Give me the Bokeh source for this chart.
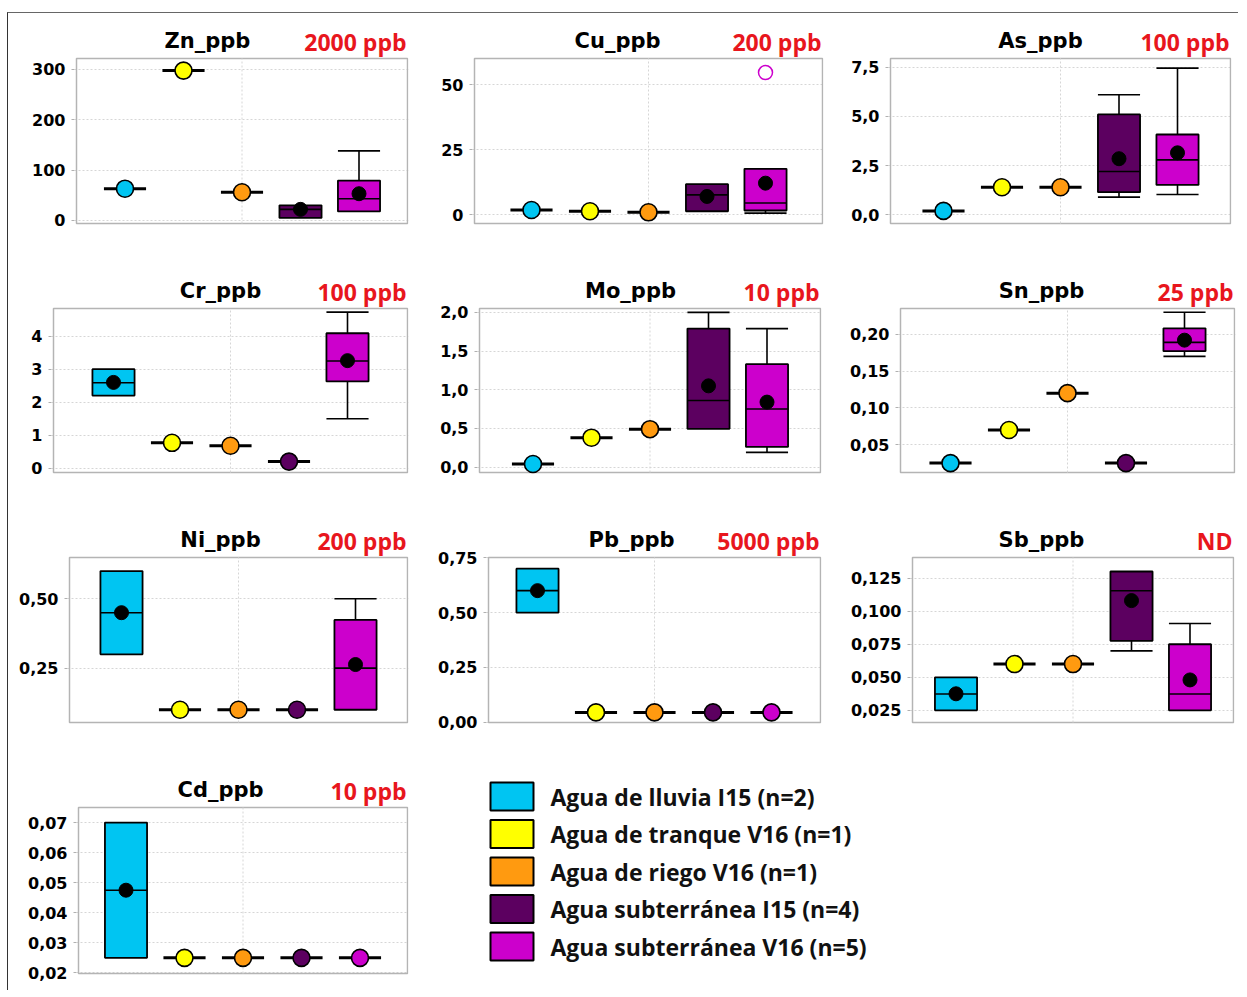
from bokeh.plotting import figure
from bokeh.layouts import row, column
from bokeh.models import Range1d, FixedTicker, ColumnDataSource
from bokeh.embed import file_html
from bokeh.resources import INLINE
from bokeh.core.properties import value

# ---------------- data ----------------
GROUPS = ["Agua de lluvia I15 (n=2)", "Agua de tranque V16 (n=1)", "Agua de riego V16 (n=1)",
          "Agua subterránea I15 (n=4)", "Agua subterránea V16 (n=5)"]
COLORS = ["#00c5f2", "#ffff00", "#ff9a10", "#5c0060", "#cc00cc"]
XPOS = [1, 2, 3, 4, 5]

# per element: lower whisker, Q1, median, Q3, upper whisker, mean (one value per group)
ZN_LO = [63, 297, 56, 5, 18]
ZN_Q1 = [63, 297, 56, 5, 18]
ZN_MED = [63, 297, 56, 22, 43]
ZN_Q3 = [63, 297, 56, 30, 79]
ZN_HI = [63, 297, 56, 30, 138]
ZN_MEAN = [63, 297, 56, 22, 53]
ZN_TICKS = [0, 100, 200, 300]
ZN_LABELS = ["0", "100", "200", "300"]

CU_LO = [1.8, 1.3, 0.9, 1.3, 0.6]
CU_Q1 = [1.8, 1.3, 0.9, 1.3, 1.6]
CU_MED = [1.8, 1.3, 0.9, 7.6, 4.5]
CU_Q3 = [1.8, 1.3, 0.9, 11.7, 17.6]
CU_HI = [1.8, 1.3, 0.9, 11.7, 17.6]
CU_MEAN = [1.8, 1.3, 0.9, 7.0, 12.1]
CU_OUT_X = [5]
CU_OUT_Y = [54.6]
CU_TICKS = [0, 25, 50]
CU_LABELS = ["0", "25", "50"]

AS_LO = [0.2, 1.4, 1.4, 0.9, 1.03]
AS_Q1 = [0.2, 1.4, 1.4, 1.15, 1.52]
AS_MED = [0.2, 1.4, 1.4, 2.2, 2.79]
AS_Q3 = [0.2, 1.4, 1.4, 5.1, 4.08]
AS_HI = [0.2, 1.4, 1.4, 6.1, 7.45]
AS_MEAN = [0.2, 1.4, 1.4, 2.85, 3.15]
AS_TICKS = [0, 2.5, 5, 7.5]
AS_LABELS = ["0,0", "2,5", "5,0", "7,5"]

CR_LO = [2.2, 0.77, 0.68, 0.2, 1.5]
CR_Q1 = [2.2, 0.77, 0.68, 0.2, 2.63]
CR_MED = [2.59, 0.77, 0.68, 0.2, 3.25]
CR_Q3 = [3.0, 0.77, 0.68, 0.2, 4.09]
CR_HI = [3.0, 0.77, 0.68, 0.2, 4.73]
CR_MEAN = [2.6, 0.77, 0.68, 0.2, 3.26]
CR_TICKS = [0, 1, 2, 3, 4]
CR_LABELS = ["0", "1", "2", "3", "4"]

MO_LO = [0.04, 0.38, 0.49, 0.495, 0.19]
MO_Q1 = [0.04, 0.38, 0.49, 0.495, 0.26]
MO_MED = [0.04, 0.38, 0.49, 0.86, 0.75]
MO_Q3 = [0.04, 0.38, 0.49, 1.79, 1.33]
MO_HI = [0.04, 0.38, 0.49, 2.0, 1.79]
MO_MEAN = [0.04, 0.38, 0.49, 1.05, 0.84]
MO_TICKS = [0, 0.5, 1, 1.5, 2]
MO_LABELS = ["0,0", "0,5", "1,0", "1,5", "2,0"]

SN_LO = [0.025, 0.07, 0.12, 0.025, 0.17]
SN_Q1 = [0.025, 0.07, 0.12, 0.025, 0.177]
SN_MED = [0.025, 0.07, 0.12, 0.025, 0.189]
SN_Q3 = [0.025, 0.07, 0.12, 0.025, 0.208]
SN_HI = [0.025, 0.07, 0.12, 0.025, 0.23]
SN_MEAN = [0.025, 0.07, 0.12, 0.025, 0.192]
SN_TICKS = [0.05, 0.10, 0.15, 0.20]
SN_LABELS = ["0,05", "0,10", "0,15", "0,20"]

NI_LO = [0.30, 0.10, 0.10, 0.10, 0.10]
NI_Q1 = [0.30, 0.10, 0.10, 0.10, 0.10]
NI_MED = [0.45, 0.10, 0.10, 0.10, 0.25]
NI_Q3 = [0.60, 0.10, 0.10, 0.10, 0.424]
NI_HI = [0.60, 0.10, 0.10, 0.10, 0.50]
NI_MEAN = [0.45, 0.10, 0.10, 0.10, 0.263]
NI_TICKS = [0.25, 0.50]
NI_LABELS = ["0,25", "0,50"]

PB_LO = [0.50, 0.045, 0.045, 0.045, 0.045]
PB_Q1 = [0.50, 0.045, 0.045, 0.045, 0.045]
PB_MED = [0.60, 0.045, 0.045, 0.045, 0.045]
PB_Q3 = [0.70, 0.045, 0.045, 0.045, 0.045]
PB_HI = [0.70, 0.045, 0.045, 0.045, 0.045]
PB_MEAN = [0.60, 0.045, 0.045, 0.045, 0.045]
PB_TICKS = [0, 0.25, 0.50, 0.75]
PB_LABELS = ["0,00", "0,25", "0,50", "0,75"]

SB_LO = [0.025, 0.06, 0.06, 0.07, 0.025]
SB_Q1 = [0.025, 0.06, 0.06, 0.0776, 0.025]
SB_MED = [0.0373, 0.06, 0.06, 0.1155, 0.0373]
SB_Q3 = [0.05, 0.06, 0.06, 0.13, 0.075]
SB_HI = [0.05, 0.06, 0.06, 0.13, 0.0907]
SB_MEAN = [0.0375, 0.06, 0.06, 0.108, 0.048]
SB_TICKS = [0.025, 0.05, 0.075, 0.1, 0.125]
SB_LABELS = ["0,025", "0,050", "0,075", "0,100", "0,125"]

CD_LO = [0.025, 0.025, 0.025, 0.025, 0.025]
CD_Q1 = [0.025, 0.025, 0.025, 0.025, 0.025]
CD_MED = [0.0475, 0.025, 0.025, 0.025, 0.025]
CD_Q3 = [0.07, 0.025, 0.025, 0.025, 0.025]
CD_HI = [0.07, 0.025, 0.025, 0.025, 0.025]
CD_MEAN = [0.0475, 0.025, 0.025, 0.025, 0.025]
CD_TICKS = [0.02, 0.03, 0.04, 0.05, 0.06, 0.07]
CD_LABELS = ["0,02", "0,03", "0,04", "0,05", "0,06", "0,07"]

# ---------------- drawing ----------------
PX_PER_UNIT = 58.5
BOX_W = 0.72
GRID_COLOR = "#d6d6d6"
FRAME_COLOR = "#b4b4b4"


def panel(name, limit, lo, q1, med, q3, hi, mean, ticks, labels, yr, geom,
          out_x=None, out_y=None):
    # geom: figure width, height, plot-box left/right/top/bottom offsets, title centre
    W, H, L, R, T, B, title_local = geom
    fw = W - L - R
    half = fw / 2 / PX_PER_UNIT
    ux = 1.0 / PX_PER_UNIT
    y0, y1 = yr
    uy = (y1 - y0) / (H - T - B)
    bx0, bx1 = 3 - half, 3 + half
    p = figure(width=W, height=H,
               x_range=Range1d(bx0 - 2 * ux, bx1 + 1 * ux),
               y_range=Range1d(y0 - B * uy, y1 + T * uy),
               output_backend="svg", toolbar_location=None, x_axis_location=None,
               min_border_left=L - 2, min_border_right=R - 1, min_border_top=0,
               min_border_bottom=0, background_fill_color="white",
               border_fill_color="white")
    p.outline_line_color = None
    for g in p.grid:
        if g.dimension == 0:
            g.visible = False

    yax = p.yaxis[0]
    yax.ticker = FixedTicker(ticks=ticks)
    yax.major_label_overrides = dict(zip(ticks, labels))
    yax.major_label_text_font = "DejaVu Sans"
    yax.major_label_text_font_style = "bold"
    yax.major_label_text_font_size = "16px"
    yax.major_label_text_color = "black"
    yax.axis_line_color = None
    yax.major_tick_line_color = "#b0b0b0"
    yax.major_tick_out = 3
    yax.major_tick_in = 0
    yax.minor_tick_line_color = None
    yax.major_label_standoff = 6

    p.ygrid.ticker = FixedTicker(ticks=ticks)
    p.ygrid.grid_line_color = GRID_COLOR
    p.ygrid.grid_line_dash = "2 2"

    # plot box and central vertical grid line
    p.quad(left=[bx0], right=[bx1], bottom=[y0], top=[y1], fill_color=None,
           line_color=FRAME_COLOR, line_width=1.5)
    p.segment(x0=[3], y0=[y0], x1=[3], y1=[y1], line_color=GRID_COLOR,
              line_dash="2 2", line_width=1)

    hw = BOX_W / 2
    boxes = [i for i in range(5) if q3[i] > q1[i]]
    singles = [i for i in range(5) if q3[i] == q1[i]]

    up = [i for i in boxes if hi[i] > q3[i]]
    dn = [i for i in boxes if lo[i] < q1[i]]
    wx0, wy0, wx1, wy1 = [], [], [], []
    for i in up:
        x = XPOS[i]
        wx0 += [x, x - hw]; wx1 += [x, x + hw]
        wy0 += [q3[i], hi[i]]; wy1 += [hi[i], hi[i]]
    for i in dn:
        x = XPOS[i]
        wx0 += [x, x - hw]; wx1 += [x, x + hw]
        wy0 += [q1[i], lo[i]]; wy1 += [lo[i], lo[i]]
    if wx0:
        p.segment(x0=wx0, y0=wy0, x1=wx1, y1=wy1, line_color="black", line_width=1.6)

    if boxes:
        src = ColumnDataSource(dict(
            x=[XPOS[i] for i in boxes], bot=[q1[i] for i in boxes],
            top=[q3[i] for i in boxes], c=[COLORS[i] for i in boxes],
            med=[med[i] for i in boxes], mean=[mean[i] for i in boxes],
            xl=[XPOS[i] - hw for i in boxes], xr=[XPOS[i] + hw for i in boxes]))
        p.vbar(x="x", width=BOX_W, bottom="bot", top="top", fill_color="c",
               line_color="black", line_width=1.8, source=src)
        p.segment(x0="xl", y0="med", x1="xr", y1="med", line_color="black",
                  line_width=1.6, source=src)
        p.scatter(x="x", y="mean", marker="circle", size=14, fill_color="black",
                  line_color="black", source=src)

    if singles:
        s2 = ColumnDataSource(dict(
            x=[XPOS[i] for i in singles], v=[mean[i] for i in singles],
            c=[COLORS[i] for i in singles],
            xl=[XPOS[i] - hw for i in singles], xr=[XPOS[i] + hw for i in singles]))
        p.segment(x0="xl", y0="v", x1="xr", y1="v", line_color="black",
                  line_width=3, source=s2)
        p.scatter(x="x", y="v", marker="circle", size=17, fill_color="c",
                  line_color="black", line_width=1.6, source=s2)

    if out_x:
        p.scatter(x=out_x, y=out_y, marker="circle", size=14, fill_color=None,
                  line_color=COLORS[4], line_width=1.5)

    # element name and guideline value above the plot box
    p.text(x=[3 + (title_local - (L + fw / 2)) * ux], y=[y1 + 18 * uy], text=[name],
           text_align="center", text_baseline="alphabetic",
           text_font=value("DejaVu Sans"), text_font_style="bold",
           text_font_size="21px", text_color="black")
    p.text(x=[bx1 - 1 * ux], y=[y1 + 17 * uy], text=[limit], text_align="right",
           text_baseline="alphabetic", text_font=value("Open Sans"),
           text_font_style="bold", text_font_size="23px", text_color="#e8161d")
    return p


zn = panel("Zn_ppb", "2000 ppb", ZN_LO, ZN_Q1, ZN_MED, ZN_Q3, ZN_HI, ZN_MEAN,
           ZN_TICKS, ZN_LABELS, (-6, 321), (410, 249, 68, 11, 45, 39, 199))
cu = panel("Cu_ppb", "200 ppb", CU_LO, CU_Q1, CU_MED, CU_Q3, CU_HI, CU_MEAN,
           CU_TICKS, CU_LABELS, (-3.4, 60), (410, 249, 56, 6, 45, 39, 199),
           out_x=CU_OUT_X, out_y=CU_OUT_Y)
as_ = panel("As_ppb", "100 ppb", AS_LO, AS_Q1, AS_MED, AS_Q3, AS_HI, AS_MEAN,
            AS_TICKS, AS_LABELS, (-0.44, 7.94), (410, 249, 62, 8, 45, 39, 212))
cr = panel("Cr_ppb", "100 ppb", CR_LO, CR_Q1, CR_MED, CR_Q3, CR_HI, CR_MEAN,
           CR_TICKS, CR_LABELS, (-0.13, 4.84), (410, 248, 45, 11, 46, 38, 212))
mo = panel("Mo_ppb", "10 ppb", MO_LO, MO_Q1, MO_MED, MO_Q3, MO_HI, MO_MEAN,
           MO_TICKS, MO_LABELS, (-0.07, 2.05), (410, 248, 61, 8, 46, 38, 212))
sn = panel("Sn_ppb", "25 ppb", SN_LO, SN_Q1, SN_MED, SN_Q3, SN_HI, SN_MEAN,
           SN_TICKS, SN_LABELS, (0.0122, 0.235), (410, 248, 72, 4, 46, 38, 213))
ni = panel("Ni_ppb", "200 ppb", NI_LO, NI_Q1, NI_MED, NI_Q3, NI_HI, NI_MEAN,
           NI_TICKS, NI_LABELS, (0.054, 0.649), (410, 250, 61, 11, 47, 38, 212))
pb = panel("Pb_ppb", "5000 ppb", PB_LO, PB_Q1, PB_MED, PB_Q3, PB_HI, PB_MEAN,
           PB_TICKS, PB_LABELS, (-0.001, 0.751), (410, 250, 70, 8, 47, 38, 213))
sb = panel("Sb_ppb", "ND", SB_LO, SB_Q1, SB_MED, SB_Q3, SB_HI, SB_MEAN,
           SB_TICKS, SB_LABELS, (0.0158, 0.1406), (410, 250, 84, 5, 47, 38, 213))
cd = panel("Cd_ppb", "10 ppb", CD_LO, CD_Q1, CD_MED, CD_Q3, CD_HI, CD_MEAN,
           CD_TICKS, CD_LABELS, (0.0198, 0.075), (410, 230, 70, 11, 47, 17, 212))

# legend panel
leg = figure(width=820, height=230, x_range=Range1d(0, 820), y_range=Range1d(230, 0),
             output_backend="svg", toolbar_location=None, x_axis_location=None,
             y_axis_location=None, min_border=0, min_border_left=0, min_border_right=0,
             min_border_top=0, min_border_bottom=0)
leg.outline_line_color = None
leg.grid.visible = False
LEG_Y = [36, 73.5, 111, 148.5, 186]
leg.rect(x=93.5, y=LEG_Y, width=43, height=28, fill_color=COLORS,
         line_color="black", line_width=2)
leg.text(x=132, y=LEG_Y, text=GROUPS, text_font=value("Open Sans"),
         text_font_style="bold", text_font_size="23px", text_baseline="middle",
         text_color="#111111")

layout = column(row(zn, cu, as_), row(cr, mo, sn), row(ni, pb, sb), row(cd, leg),
                margin=(12, 0, 0, 7),
                styles={"border-left": "1px solid #333333",
                        "border-top": "1px solid #666666"})

open("out.html", "w").write(file_html(layout, INLINE))
